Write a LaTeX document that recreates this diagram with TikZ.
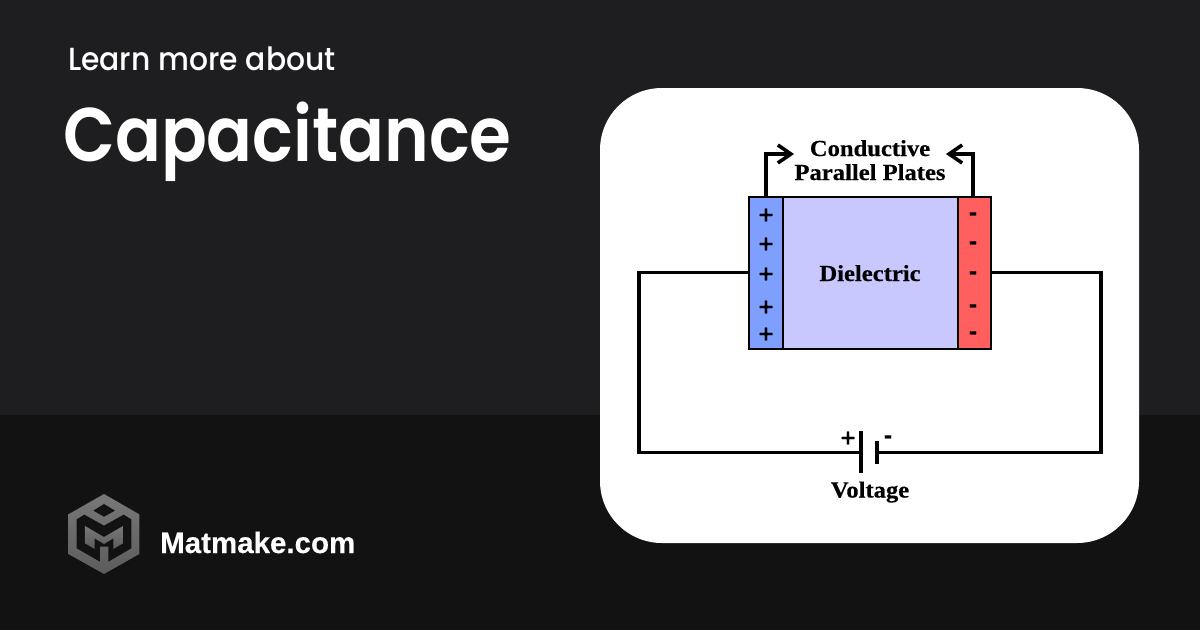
\documentclass[tikz,border=0pt]{standalone}
\usepackage{fontspec}
\usetikzlibrary{arrows.meta}
\newfontfamily\learnf{Poppins Medium}[FakeStretch=0.93]
\newfontfamily\titlef{Poppins SemiBold}[FakeStretch=0.89]
\newfontfamily\serifb{Liberation Serif Bold}[FakeStretch=1.07,FakeBold=0.4]
\newfontfamily\sansb{Liberation Sans Bold}[FakeBold=0.3]
\newfontfamily\signf{DejaVu Sans Bold}[FakeBold=0.5]
\definecolor{bgtop}{HTML}{1E1E20}
\definecolor{bgbot}{HTML}{121212}
\definecolor{plateblue}{HTML}{7F9FFF}
\definecolor{platered}{HTML}{FF5F5F}
\definecolor{dielec}{HTML}{C8C8FF}
\definecolor{logotop}{HTML}{787878}
\definecolor{logobot}{HTML}{5C5C5C}
\tikzset{
  wire/.style={line width=3.2pt,draw=black,line cap=butt,line join=miter},
  plate/.style={line width=2pt,draw=black,inner sep=0pt,outer sep=0pt,minimum height=152pt,anchor=north west},
  callout/.style={wire,-{Straight Barb[length=13pt,width=18pt,line width=3.6pt]}},
  lab/.style={font=\serifb\fontsize{23}{24}\selectfont,text=black,align=center,inner sep=0pt,anchor=base},
  sign/.style={font=\signf\fontsize{20}{20}\selectfont,text=black,inner sep=0pt},
  logoface/.style={top color=logotop,bottom color=logobot},
}
\begin{document}
\begin{tikzpicture}[x=1pt,y=-1pt]
\useasboundingbox (0,0) rectangle (1200,630);
\fill[bgtop] (0,0) rectangle (1200,415);
\fill[bgbot] (0,415) rectangle (1200,630);
\node[anchor=base west,inner sep=0pt,text=white,font=\learnf\fontsize{32}{32}\selectfont] (learn) at (68,70) {Learn more about};
\node[anchor=base west,inner sep=0pt,text=white,font=\titlef\fontsize{76}{76}\selectfont] (title) at (63,161) {Capacitance};
\node[anchor=base west,inner sep=0pt,text=white,font=\sansb\fontsize{29.5}{29.5}\selectfont] (brand) at (160,553) {Matmake.com};
% logo
\begin{scope}[shift={(50,480)},x=0.3333pt,y=-0.3333pt]
\shade[logoface] (162,42) -- (268,103) -- (268,222) -- (162,282) -- (55,222) -- (55,103) -- cycle;
\fill[bgbot] (162,72) -- (195,92) -- (162,110) -- (130,92) -- cycle;
\fill[bgbot] (80,118) -- (103,104) -- (162,137) -- (221,104) -- (244,118) -- (244,205) -- (175,245) -- (175,200) -- (150,200) -- (150,245) -- (80,205) -- cycle;
\shade[logoface] (105,138) -- (162,171) -- (219,138) -- (219,190) -- (190,207) -- (190,175) -- (162,192) -- (134,175) -- (134,207) -- (105,190) -- cycle;
\end{scope}
% card
\fill[white,rounded corners=62pt] (600,88) rectangle (1139,543);
% wires
\draw[wire] (749,272.5) -- (639,272.5) -- (639,452.5) -- (861,452.5);
\draw[wire] (990,272.5) -- (1101,272.5) -- (1101,452.5) -- (877,452.5);
\draw[wire] (861,431) -- (861,473);
\draw[wire] (877,441) -- (877,464);
% plates
\node[plate,fill=plateblue,minimum width=33.5pt] (pos) at (749,196.5) {};
\node[plate,fill=dielec,minimum width=175pt] (die) at (782.5,196.5) {};
\node[plate,fill=platered,minimum width=33pt] (neg) at (957.5,196.5) {};
\node[lab] (dl) at (870,281) {Dielectric};
\foreach \y/\n in {215/a,244/b,274/c,307/d,334/e}{
  \node[sign] (p\n) at (766,\y) {+};
}
\foreach \y/\n in {216/a,245/b,275/c,308/d,335/e}{
  \node[sign] (m\n) at (973,\y) {-};
}
\node[lab] (cp1) at (870,156) {Conductive};
\node[lab] (cp2) at (870,180) {Parallel Plates};
\draw[callout] (766,196) -- (766,154) -- (794,154);
\draw[callout] (973,196) -- (973,154) -- (946,154);
\node[sign] (bp) at (848,438) {+};
\node[sign] (bm) at (888,439) {-};
\node[lab] (volt) at (870,497.5) {Voltage};
\end{tikzpicture}
\end{document}
